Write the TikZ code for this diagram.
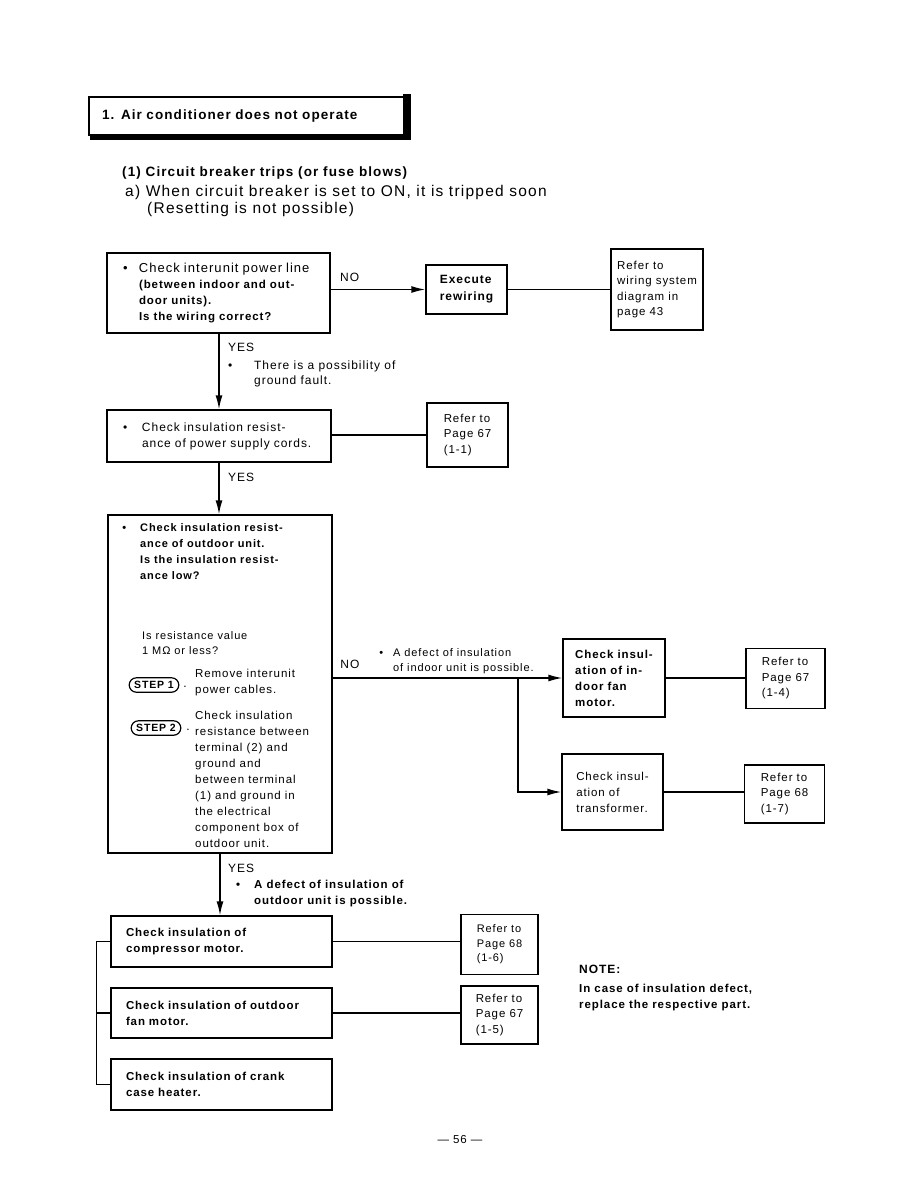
\documentclass[tikz,border=0pt]{standalone}
\usepackage{fontspec}
\setmainfont{Liberation Sans}[LetterSpace=8]
\usetikzlibrary{arrows.meta,shapes.misc}

\newcommand{\bul}[1]{\makebox[#1][l]{\textbullet}}

\begin{document}
\begin{tikzpicture}[x=1pt, y=-1pt,
    font=\fontsize{12}{16}\selectfont,
    box/.style={draw, line width=1.4pt, align=left, inner sep=0pt},
    leftbox/.style={box, inner xsep=#1},
    refbox/.style={box, font=\fontsize{11.5}{15.5}\selectfont},
    txt/.style={anchor=north west, inner sep=0pt, align=left},
    stepoval/.style={draw, line width=1.2pt, rounded rectangle, inner xsep=4pt, inner ysep=3.5pt, font=\bfseries\fontsize{10.5}{12}\selectfont},
    link/.style={line width=1.4pt},
    arrow/.style={link, -{Latex[length=14pt,width=7pt]}}
  ]
  \useasboundingbox (0,0) rectangle (918,1188);

  % heading
  \node[draw, line width=1.1pt, minimum width=314, minimum height=38, text width=290, inner xsep=13pt, align=left,
        font=\bfseries\fontsize{13.5}{16}\selectfont] (title) at (247,116) {1. Air conditioner does not operate};
  \fill ([xshift=-3pt,yshift=2pt]title.north east) rectangle ([xshift=5pt,yshift=-4pt]title.south east);
  \fill ([xshift=2pt,yshift=2pt]title.south west) rectangle ([xshift=5pt,yshift=-4pt]title.south east);

  \node[txt, anchor=west, font=\bfseries\fontsize{13.5}{16}\selectfont] (sub) at (122,173) {(1) Circuit breaker trips (or fuse blows)};
  \node[txt, anchor=west, font=\fontsize{15.5}{16}\selectfont] (suba) at (125,192) {a) When circuit breaker is set to ON, it is tripped soon};
  \node[txt, anchor=west, font=\fontsize{15.5}{16}\selectfont] (subb) at (147,209) {(Resetting is not possible)};

  % top row
  \node[leftbox=16pt, minimum width=223, minimum height=80, text width=191] (wiring) at (218.5,293)
    {{\fontsize{13}{16}\selectfont\bul{16pt}Check interunit power line}\\
     \fontsize{11.5}{16}\selectfont\bfseries
     \hspace*{16pt}(between indoor and out-\\ \hspace*{16pt}door units).\\ \hspace*{16pt}Is the wiring correct?};
  \node[box, minimum width=81, minimum height=49, font=\bfseries\fontsize{12}{17}\selectfont] (rewire) at (466.5,289.5) {Execute\\rewiring};
  \node[refbox, minimum width=92, minimum height=81] (refwiring) at (657,289.5) {Refer to\\wiring system\\diagram in\\page 43};

  \draw[arrow] (wiring.east |- rewire.west) -- node[above=4pt, pos=0.2] (no1) {NO} (rewire.west);
  \draw[link] (rewire.east) -- (rewire.east -| refwiring.west);

  \node[txt, anchor=west] (yes1) at (228,347) {YES};
  \node[txt, font=\fontsize{12}{15}\selectfont] (fault) at (254,361) {\llap{\textbullet\hspace{22pt}}There is a possibility of\\ground fault.};

  % power supply cords
  \node[leftbox=16pt, minimum width=224, minimum height=52, text width=192] (cords) at (219,436)
    {\bul{19pt}Check insulation resist-\\ \hspace*{19pt}ance of power supply cords.};
  \node[refbox, minimum width=81, minimum height=64] (refcords) at (467.5,435) {Refer to\\Page 67\\(1-1)};
  \draw[arrow] (wiring.south -| cords.north) -- (cords.north);
  \draw[link] (cords.east |- refcords.west) -- (refcords.west);

  \node[txt, anchor=west] (yes2) at (228,477) {YES};

  % outdoor unit
  \node[box, minimum width=224, minimum height=338] (outdoor) at (220,684) {};
  \draw[arrow] (cords.south) -- (cords.south |- outdoor.north);
  \node[txt, font=\bfseries\fontsize{11}{16}\selectfont] (outtxt) at (140,523)
    {\llap{\textbullet\hspace{14pt}}Check insulation resist-\\ance of outdoor unit.\\Is the insulation resist-\\ance low?};
  \node[txt, font=\fontsize{11}{15}\selectfont] (mohm) at (142,631) {Is resistance value\\1 MΩ or less?};
  \node[stepoval] (step1) at (154,685) {STEP 1};
  \node[inner sep=0pt] (dot1) at (185,687) {.};
  \node[txt, font=\fontsize{11.5}{16}\selectfont] (step1txt) at (195,669) {Remove interunit\\power cables.};
  \node[stepoval] (step2) at (156,728) {STEP 2};
  \node[inner sep=0pt] (dot2) at (188,730) {.};
  \node[txt, font=\fontsize{11.5}{16}\selectfont] (step2txt) at (195,711)
    {Check insulation\\resistance between\\terminal (2) and\\ground and\\between terminal\\(1) and ground in\\the electrical\\component box of\\outdoor unit.};

  % indoor branch
  \node[box, minimum width=102, minimum height=78, font=\bfseries\fontsize{11.5}{16}\selectfont] (fanin) at (614,678)
    {Check insul-\\ation of in-\\door fan\\motor.};
  \node[refbox, minimum width=79, minimum height=60] (reffanin) at (785.5,678.5) {Refer to\\Page 67\\(1-4)};
  \node[box, minimum width=101, minimum height=76, font=\fontsize{11.5}{16}\selectfont] (trans) at (612.5,792)
    {Check insul-\\ation of\\transformer.};
  \node[refbox, minimum width=80, minimum height=58] (reftrans) at (784.5,794) {Refer to\\Page 68\\(1-7)};

  \coordinate (split) at (518,678);
  \draw[arrow] (outdoor.east |- fanin.west) -- node[above=5pt, pos=0.075] (no2) {NO} (fanin.west);
  \draw[arrow] (split) |- (trans.west);
  \draw[link] (fanin.east) -- (fanin.east -| reffanin.west);
  \draw[link] (trans.east) -- (trans.east -| reftrans.west);
  \node[txt, font=\fontsize{11}{15}\selectfont] (indoor) at (393,648) {\llap{\textbullet\hspace{10pt}}A defect of insulation\\of indoor unit is possible.};

  % outdoor parts
  \node[txt, anchor=west] (yes3) at (228,868) {YES};
  \node[txt, font=\bfseries\fontsize{11.5}{16}\selectfont] (outpart) at (254,880) {\llap{\textbullet\hspace{14pt}}A defect of insulation of\\outdoor unit is possible.};

  \node[leftbox=15pt, minimum width=221, minimum height=51, text width=191, font=\bfseries\fontsize{11.5}{16}\selectfont] (comp) at (221.5,941.5)
    {Check insulation of\\compressor motor.};
  \node[refbox, minimum width=77, minimum height=60, font=\fontsize{11}{14.5}\selectfont] (refcomp) at (499.5,944.5) {Refer to\\Page 68\\(1-6)};
  \node[leftbox=15pt, minimum width=221, minimum height=50, text width=191, font=\bfseries\fontsize{11.5}{16}\selectfont] (fanout) at (221.5,1013)
    {Check insulation of outdoor\\fan motor.};
  \node[refbox, minimum width=77, minimum height=58] (reffanout) at (499.5,1015) {Refer to\\Page 67\\(1-5)};
  \node[leftbox=15pt, minimum width=221, minimum height=51, text width=191, font=\bfseries\fontsize{11.5}{16}\selectfont] (crank) at (221.5,1084.5)
    {Check insulation of crank\\case heater.};

  \draw[arrow] (outdoor.south) -- (outdoor.south |- comp.north);
  \draw[link] (comp.east) -- (comp.east -| refcomp.west);
  \draw[link] (fanout.east) -- (fanout.east -| reffanout.west);
  \draw[link] (comp.west) -- ++(-14,0) |- (crank.west);
  \draw[link] (fanout.west) -- ++(-14,0);

  % note
  \node[txt, font=\bfseries\fontsize{12}{16}\selectfont] (note) at (579,965) {NOTE:};
  \node[txt, font=\bfseries\fontsize{11.5}{16}\selectfont] (notetxt) at (579,984) {In case of insulation defect,\\replace the respective part.};

  \node[font=\fontsize{11.5}{14}\selectfont] (page) at (460,1140) {— 56 —};
\end{tikzpicture}
\end{document}
